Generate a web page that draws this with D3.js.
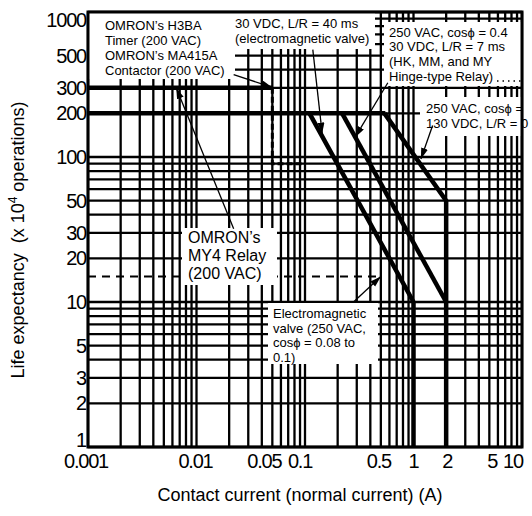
<!DOCTYPE html>
<html>
<head>
<meta charset="utf-8">
<script src="https://cdn.jsdelivr.net/npm/d3@7"></script>
<style>
  body { margin: 0; background: #fff; }
  text { font-family: "Liberation Sans", Arial, sans-serif; fill: #000; white-space: pre; }
</style>
</head>
<body>
<script>
// axis tick labels
var xTicks = [0.001, 0.01, 0.05, 0.1, 0.5, 1, 2, 5, 10];
var yTicks = [1, 2, 3, 5, 10, 20, 30, 50, 100, 200, 300, 500, 1000];

// curves: contact current (A) vs life (x 10^4 operations)
var h3baCurrent = [0.001, 0.05],        h3baLife = [300, 300];
var h3baDropCurrent = [0.05, 0.05, 0.1], h3baDropLife = [300, 90, 90];
var flatCurrent = [0.001, 0.55],        flatLife = [200, 200];
var valve40Current = [0.11, 1, 1],      valve40Life = [200, 10, 1];
var hinge7Current = [0.22, 2],          hinge7Life = [200, 10];
var resistCurrent = [0.54, 2, 2],       resistLife = [200, 50, 1];
var valveAcCurrent = [0.001, 0.5],      valveAcLife = [15, 15];

var W = 532, H = 516;
var svg = d3.select("body").append("svg")
    .attr("width", W)
    .attr("height", H);

svg.append("rect").attr("width", W).attr("height", H).attr("fill", "#fff");

var x = d3.scaleLog().domain([0.001, 10]).range([88, 522]);
var y = d3.scaleLog().domain([1, 1000]).range([447, 12]);

// log grid: 1..9 in every decade
function logGrid(lo, hi) {
  var out = [];
  for (var e = Math.log10(lo); e < Math.log10(hi); e++)
    for (var m = 1; m < 10; m++) out.push(m * Math.pow(10, e));
  out.push(hi);
  return out;
}

var grid = svg.append("g").attr("stroke", "#000").attr("stroke-width", 2.3);
grid.selectAll(".vx").data(logGrid(0.001, 10)).enter().append("line")
    .attr("x1", d => x(d)).attr("x2", d => x(d))
    .attr("y1", y(1)).attr("y2", y(1000));
grid.selectAll(".hy").data(logGrid(1, 1000)).enter().append("line")
    .attr("y1", d => y(d)).attr("y2", d => y(d))
    .attr("x1", x(0.001)).attr("x2", x(10));

var line = d3.line().x(d => x(d[0])).y(d => y(d[1]));
function pts(cs, ls) { return cs.map((c, i) => [c, ls[i]]); }

var curves = svg.append("g").attr("fill", "none").attr("stroke", "#000");
curves.append("path").attr("d", line(pts(h3baCurrent, h3baLife))).attr("stroke-width", 4.5);
curves.append("path").attr("d", line(pts(h3baDropCurrent, h3baDropLife)))
    .attr("stroke-width", 3).attr("stroke-dasharray", "6,3");
curves.append("path").attr("d", line(pts(flatCurrent, flatLife))).attr("stroke-width", 4.5);
curves.append("path").attr("d", line(pts(valve40Current, valve40Life))).attr("stroke-width", 4.5);
curves.append("path").attr("d", line(pts(hinge7Current, hinge7Life))).attr("stroke-width", 4.5);
curves.append("path").attr("d", line(pts(resistCurrent, resistLife))).attr("stroke-width", 4.5);
curves.append("path").attr("d", line(pts(valveAcCurrent, valveAcLife)))
    .attr("stroke-width", 2).attr("stroke-dasharray", "8,6");

// label boxes
var labels = [
  { lines: ["OMRON’s H3BA", "Timer (200 VAC)", "OMRON’s MA415A", "Contactor (200 VAC)"],
    tx: 105, ty: 30, lh: 15, fs: 13, box: [88, 12, 147, 67] },
  { lines: ["30 VDC, L/R = 40 ms", "(electromagnetic valve)"],
    tx: 235, ty: 28, lh: 15, fs: 13, box: [231, 12, 144, 37] },
  { lines: ["250 VAC, cosϕ = 0.4", "30 VDC, L/R = 7 ms", "(HK, MM, and MY", "Hinge-type Relay)"],
    tx: 389, ty: 36.5, lh: 14.7, fs: 13, box: [384, 22, 138, 64] },
  { lines: ["250 VAC, cosϕ =", "130 VDC, L/R = 0"],
    tx: 426, ty: 113, lh: 15, fs: 13, box: [420, 97, 102, 39] },
  { lines: ["OMRON’s", "MY4 Relay", "(200 VAC)"],
    tx: 188, ty: 243, lh: 18, fs: 16, box: [182, 228, 95, 57] },
  { lines: ["Electromagnetic", "valve (250 VAC,", "cosϕ = 0.08 to", "0.1)"],
    tx: 273, ty: 318, lh: 14.7, fs: 13, box: [268, 303, 110, 61] }
];

var lab = svg.append("g").selectAll("g").data(labels).enter().append("g");
lab.append("rect")
    .attr("x", d => d.box[0]).attr("y", d => d.box[1])
    .attr("width", d => d.box[2]).attr("height", d => d.box[3])
    .attr("fill", "#fff");
lab.each(function(d) {
  var t = d3.select(this).append("text").attr("font-size", d.fs);
  d.lines.forEach((s, i) => {
    t.append("tspan").attr("x", d.tx).attr("y", d.ty + i * d.lh).text(s);
  });
});

// dotted leader after the hinge relay label
svg.append("line")
    .attr("x1", 497).attr("x2", 521).attr("y1", 81).attr("y2", 81)
    .attr("stroke", "#000").attr("stroke-width", 1.5).attr("stroke-dasharray", "1.5,4");

// annotation arrows (data coordinates)
var arrows = [
  { from: [0.022, 370], to: [0.05, 302] },
  { from: [0.022, 32],  to: [0.0065, 300] },
  { from: [0.118, 550], to: [0.144, 145] },
  { from: [0.58, 325],  to: [0.29, 137] },
  { from: [1.5, 165],   to: [1.17, 97] },
  { from: [0.28, 10],   to: [0.5, 15] }
];

svg.append("defs").append("marker")
    .attr("id", "ah")
    .attr("markerUnits", "userSpaceOnUse")
    .attr("markerWidth", 12).attr("markerHeight", 8)
    .attr("refX", 11).attr("refY", 3.5)
    .attr("orient", "auto")
  .append("path").attr("d", "M0,0L11,3.5L0,7Z").attr("fill", "#000");

svg.append("g").selectAll("line").data(arrows).enter().append("line")
    .attr("x1", d => x(d.from[0])).attr("y1", d => y(d.from[1]))
    .attr("x2", d => x(d.to[0])).attr("y2", d => y(d.to[1]))
    .attr("stroke", "#000").attr("stroke-width", 1.3)
    .attr("marker-end", "url(#ah)");

// frame
svg.append("rect")
    .attr("x", 88).attr("y", 12).attr("width", 434).attr("height", 435)
    .attr("fill", "none").attr("stroke", "#000").attr("stroke-width", 3);

// tick labels
var xShift = { 0.001: -2, 0.01: -1, 0.05: -8, 0.1: -5, 0.5: -2, 1: 0, 2: 1, 5: 3, 10: -9 };
svg.append("g").selectAll("text").data(xTicks).enter().append("text")
    .attr("x", d => x(d) + xShift[d])
    .attr("y", 468)
    .attr("text-anchor", "middle")
    .attr("font-size", 20)
    .attr("letter-spacing", -1.2)
    .text(d => String(d));

svg.append("g").selectAll("text").data(yTicks).enter().append("text")
    .attr("x", 86)
    .attr("y", d => Math.max(19.5, Math.min(439.5, y(d))) + 7)
    .attr("text-anchor", "end")
    .attr("font-size", 20)
    .attr("letter-spacing", -1.2)
    .text(d => String(d));

// axis titles
svg.append("text")
    .attr("x", 300).attr("y", 501)
    .attr("text-anchor", "middle")
    .attr("font-size", 18)
    .text("Contact current (normal current) (A)");

var yt = svg.append("text")
    .attr("transform", "translate(24,240) rotate(-90)")
    .attr("text-anchor", "middle")
    .attr("font-size", 18);
yt.append("tspan").text("Life expectancy  (x 10");
yt.append("tspan").attr("font-size", 12).attr("dy", -7).text("4");
yt.append("tspan").attr("dy", 7).text(" operations)");
</script>
</body>
</html>
